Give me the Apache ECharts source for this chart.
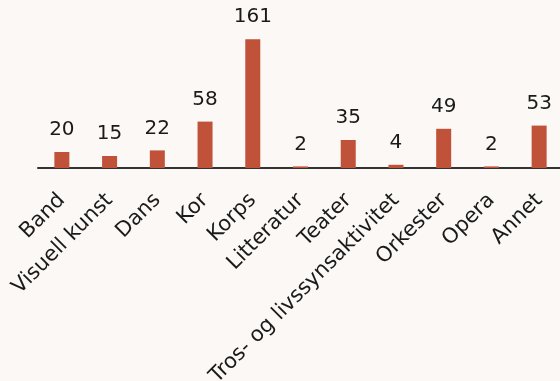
<!DOCTYPE html>
<html>
<head>
<meta charset="utf-8">
<script src="https://cdn.jsdelivr.net/npm/echarts@6/dist/echarts.min.js"></script>
<style>
  html, body { margin: 0; padding: 0; background: #fbf8f5; }
  #chart { width: 560px; height: 381px; }
</style>
</head>
<body>
<div id="chart"></div>
<script>
// Activity categories and participant counts
const categories = ['Band', 'Visuell kunst', 'Dans', 'Kor', 'Korps', 'Litteratur', 'Teater',
  'Tros- og livssynsaktivitet', 'Orkester', 'Opera', 'Annet'];
const counts = [20, 15, 22, 58, 161, 2, 35, 4, 49, 2, 53];

const FONT = '"DejaVu Sans", sans-serif';

const chart = echarts.init(document.getElementById('chart'), null, { renderer: 'canvas' });
chart.setOption({
  backgroundColor: '#fbf8f5',
  animation: false,
  grid: { left: 38, top: 8, width: 525, height: 160, containLabel: false, outerBoundsMode: 'none' },
  xAxis: {
    type: 'category',
    data: categories,
    axisLine: { lineStyle: { color: '#333', width: 2 } },
    axisTick: { show: false },
    axisLabel: {
      interval: 0,
      rotate: 45,
      margin: 29,
      color: '#1a1a1a',
      fontFamily: FONT,
      fontSize: 21
    }
  },
  yAxis: {
    type: 'value',
    min: 0,
    max: 200,
    show: false
  },
  series: [{
    type: 'bar',
    data: counts,
    barWidth: 15,
    itemStyle: { color: '#c1523a' },
    label: {
      show: true,
      position: 'top',
      distance: 12,
      color: '#1a1a1a',
      fontFamily: FONT,
      fontSize: 20
    }
  }]
});
</script>
</body>
</html>
